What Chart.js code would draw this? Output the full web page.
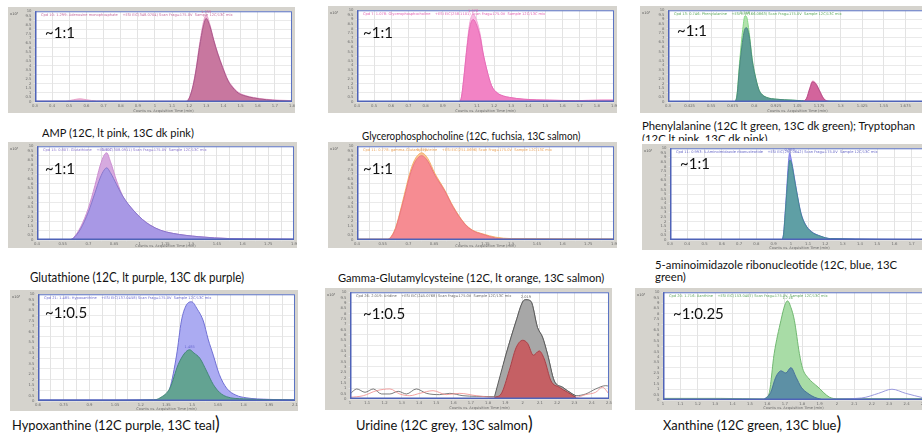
<!DOCTYPE html>
<html>
<head>
<meta charset="utf-8">
<script src="https://cdn.jsdelivr.net/npm/chart.js@4.4.1/dist/chart.umd.min.js"></script>
<style>
  html, body { margin: 0; padding: 0; background: #fff; width: 922px; height: 435px; overflow: hidden; position: relative; }
  body { font-family: Lato, "Open Sans", sans-serif; color: #111; }
  canvas { position: absolute; }
  .cap { position: absolute; white-space: nowrap; transform-origin: 0 0; }
  .clip { overflow: hidden; }
  .ratio { position: absolute; font-size: 15px; line-height: 16px; white-space: nowrap; }
  .paren { font-size: 19px; line-height: 10px; }
</style>
</head>
<body>
<script>
// Extracted ion chromatograms, counts (x10^5) against acquisition time (min)

// AMP
const ampTime13 = [0.3, 0.75, 1.185, 1.2, 1.223, 1.241, 1.26, 1.283, 1.299, 1.32, 1.343, 1.365, 1.395, 1.425, 1.445, 1.485, 1.53, 1.575, 1.65, 1.725, 1.8];
const ampCounts13 = [0.05, 0.05, 0.05, 0.4, 1.8, 3.6, 6.0, 8.4, 9.2, 8.4, 6.8, 5.4, 3.8, 2.4, 1.8, 1.0, 0.65, 0.45, 0.25, 0.15, 0.1];
const ampTime12 = [0.3, 0.48, 0.525, 0.563, 0.6, 0.66, 0.9, 1.17, 1.2, 1.223, 1.241, 1.26, 1.283, 1.299, 1.32, 1.343, 1.365, 1.395, 1.425, 1.445, 1.485, 1.53, 1.575, 1.65, 1.725, 1.8];
const ampCounts12 = [0.1, 0.1, 0.25, 0.35, 0.25, 0.12, 0.1, 0.08, 0.45, 1.9, 3.8, 6.3, 8.8, 9.6, 8.6, 6.9, 5.5, 3.9, 2.5, 1.9, 1.1, 0.7, 0.5, 0.3, 0.2, 0.15];

// Glycerophosphocholine
const gpcTime = [0.4, 0.993, 1.008, 1.023, 1.039, 1.057, 1.078, 1.098, 1.12, 1.135, 1.158, 1.185, 1.218, 1.255, 1.29, 1.375, 1.525, 1.675, 1.825, 1.9];
const gpcCounts13 = [0.05, 0.05, 0.4, 2.5, 5.4, 8.0, 9.0, 8.4, 7.0, 5.4, 3.5, 1.8, 1.0, 0.65, 0.5, 0.3, 0.2, 0.15, 0.2, 0.2];
const gpcCounts12 = [0.05, 0.05, 0.4, 2.6, 5.6, 8.5, 9.6, 8.9, 7.3, 5.5, 3.5, 1.8, 1.0, 0.65, 0.5, 0.3, 0.2, 0.15, 0.2, 0.2];

// Phenylalanine and tryptophan
const pheTime = [0.3, 0.683, 0.698, 0.714, 0.731, 0.746, 0.755, 0.77, 0.788, 0.803, 0.825, 0.84, 0.87, 0.93, 1.02, 1.125, 1.8];
const pheCounts13 = [0.05, 0.05, 0.5, 3.7, 6.5, 8.0, 8.1, 7.2, 4.5, 3.0, 1.4, 0.9, 0.5, 0.3, 0.2, 0.1, 0.05];
const pheCounts12 = [0.05, 0.05, 0.6, 4.2, 7.6, 9.4, 9.3, 7.6, 4.7, 3.1, 1.45, 0.92, 0.52, 0.3, 0.2, 0.1, 0.05];
const trpTime = [1.08, 1.103, 1.122, 1.137, 1.155, 1.178, 1.2, 1.223, 1.275];
const trpCounts13 = [0, 0.4, 1.5, 2.2, 2.0, 1.2, 0.4, 0.1, 0];
const trpCounts12 = [0, 0.45, 1.6, 2.3, 2.1, 1.25, 0.45, 0.1, 0];

// Glutathione
const gshTime = [0.4, 0.595, 0.613, 0.655, 0.7, 0.738, 0.768, 0.793, 0.807, 0.828, 0.865, 0.903, 0.961, 1.015, 1.059, 1.12, 1.195, 1.345, 1.525, 1.75, 1.9];
const gshCounts13 = [0.05, 0.05, 0.2, 1.2, 3.0, 5.0, 6.6, 7.5, 7.7, 7.2, 5.9, 4.6, 3.2, 2.2, 1.6, 1.05, 0.7, 0.35, 0.15, 0.1, 0.08];
const gshCounts12 = [0.05, 0.05, 0.25, 1.4, 3.4, 5.8, 7.9, 9.1, 9.3, 8.4, 6.3, 4.6, 3.2, 2.2, 1.6, 1.05, 0.7, 0.35, 0.15, 0.1, 0.08];

// gamma-Glutamylcysteine
const ggcTime = [0.4, 0.58, 0.594, 0.625, 0.661, 0.685, 0.709, 0.738, 0.778, 0.813, 0.855, 0.913, 0.961, 1.029, 1.075, 1.135, 1.21, 1.3, 1.9];
const ggcCounts13 = [0.05, 0.05, 0.2, 1.2, 3.5, 5.2, 6.9, 8.3, 9.0, 8.4, 6.9, 5.2, 3.5, 1.7, 1.0, 0.6, 0.2, 0.08, 0.05];
const ggcCounts12 = [0.1, 0.1, 0.25, 1.3, 3.7, 5.5, 7.2, 8.6, 9.3, 8.7, 7.1, 5.3, 3.6, 1.75, 1.05, 0.65, 0.3, 0.15, 0.12];

// 5-aminoimidazole ribonucleotide
const airTime = [0.3, 0.945, 0.956, 0.968, 0.978, 0.987, 0.993, 1.0, 1.01, 1.019, 1.034, 1.058, 1.083, 1.118, 1.173, 1.23, 1.8];
const airCounts13 = [0.05, 0.05, 0.4, 3.0, 5.6, 7.8, 8.7, 8.6, 7.8, 6.8, 5.2, 2.9, 1.7, 0.9, 0.4, 0.15, 0.05];
const airCounts12 = [0.05, 0.05, 0.45, 3.3, 6.2, 8.7, 9.5, 9.0, 8.0, 7.0, 5.3, 3.0, 1.75, 0.95, 0.42, 0.15, 0.05];

// Hypoxanthine
const hypTime12 = [0.6, 1.05, 1.275, 1.341, 1.37, 1.409, 1.437, 1.463, 1.496, 1.53, 1.565, 1.593, 1.623, 1.658, 1.701, 1.755, 1.815, 1.95, 2.1];
const hypCounts12 = [0.1, 0.1, 0.12, 0.3, 1.2, 4.3, 7.5, 8.9, 9.3, 8.6, 7.5, 5.8, 4.3, 2.5, 1.2, 0.55, 0.3, 0.15, 0.1];
const hypTime13 = [0.6, 1.05, 1.275, 1.313, 1.37, 1.418, 1.457, 1.485, 1.51, 1.545, 1.584, 1.623, 1.66, 1.701, 1.8, 2.1];
const hypCounts13 = [0.05, 0.05, 0.1, 0.3, 1.2, 3.4, 4.5, 4.8, 4.5, 4.0, 2.8, 1.55, 0.8, 0.4, 0.2, 0.1];

// Uridine
const uriTime12 = [1.0, 1.039, 1.087, 1.135, 1.183, 1.231, 1.279, 1.327, 1.384, 1.443, 1.519, 1.578, 1.654, 1.731, 1.837, 1.904, 1.962, 2.0, 2.019, 2.048, 2.086, 2.115, 2.144, 2.183, 2.231, 2.288, 2.308, 2.365, 2.423, 2.481, 2.5];
const uriCounts12 = [0.47, 0.94, 0.63, 0.94, 0.47, 0.47, 0.72, 0.47, 0.94, 0.53, 0.41, 0.53, 0.31, 0.25, 0.22, 4.2, 7.3, 9.1, 9.3, 9.15, 6.7, 5.8, 4.2, 1.7, 1.1, 0.47, 0.31, 0.47, 0.94, 1.25, 1.2];
const uriTime13 = [1.0, 1.077, 1.154, 1.231, 1.288, 1.346, 1.404, 1.481, 1.558, 1.635, 1.731, 1.837, 1.875, 1.923, 1.962, 2.0, 2.029, 2.062, 2.096, 2.125, 2.164, 2.212, 2.26, 2.308, 2.365, 2.423, 2.462, 2.5];
const uriCounts13 = [0.16, 0.31, 0.78, 0.94, 0.47, 0.31, 0.53, 0.78, 0.41, 0.53, 0.31, 0.16, 0.47, 2.7, 4.8, 5.5, 5.2, 4.1, 4.5, 3.75, 1.7, 1.1, 0.63, 0.16, 0.41, 0.63, 1.1, 0.47];

// Xanthine
const xanTime12 = [1.0, 1.329, 1.581, 1.609, 1.639, 1.678, 1.7, 1.716, 1.735, 1.755, 1.784, 1.803, 1.832, 1.891, 1.958, 2.006, 2.5];
const xanCounts12 = [0.15, 0.15, 0.1, 0.56, 4.3, 7.4, 8.8, 9.2, 8.6, 7.4, 4.3, 2.9, 2.1, 1.2, 0.25, 0.12, 0.12];
const xanTime13 = [1.0, 1.4, 1.581, 1.619, 1.648, 1.678, 1.706, 1.735, 1.765, 1.794, 1.832, 1.871, 1.91, 2.142, 2.239, 2.316, 2.394, 2.5];
const xanCounts13 = [0.06, 0.06, 0.06, 0.7, 2.1, 2.7, 2.5, 3.0, 2.1, 1.2, 0.62, 0.25, 0.06, 0.19, 0.62, 1.0, 0.62, 0.19];

// Panel captions and isotope ratio labels
const captions = [
  ['AMP (12C, lt pink, 13C dk pink)'],
  ['Glycerophosphocholine (12C, fuchsia, 13C salmon)'],
  ['Phenylalanine (12C lt green, 13C dk green); Tryptophan', '(12C lt pink, 13C dk pink)'],
  ['Glutathione (12C, lt purple, 13C dk purple)'],
  ['Gamma-Glutamylcysteine (12C, lt orange, 13C salmon)'],
  ['5-aminoimidazole ribonucleotide (12C, blue, 13C', 'green)'],
  ['Hypoxanthine (12C purple, 13C teal'],
  ['Uridine (12C grey, 13C salmon'],
  ['Xanthine (12C green, 13C blue']
];
const ratios = ['~1:1', '~1:1', '~1:1', '~1:1', '~1:1', '~1:1', '~1:0.5', '~1:0.5', '~1:0.25'];
const compounds = ['Adenosine monophosphate', 'Glycerophosphocholine', 'Phenylalanine', 'Glutathione', 'gamma-Glutamylcysteine', '5-Aminoimidazole ribonucleotide', 'Hypoxanthine', 'Uridine', 'Xanthine'];
const compoundIds = [10, 7, 13, 15, 11, 11, 21, 26, 20];
const ionMasses = ['348.0704', '258.1101', '166.0863', '308.0911', '251.0696', '296.0642', '137.0458', '245.0768', '153.0407'];

// ---------------------------------------------------------------------------

const panels = [
  { left: 8, top: 7, w: 287, h: 106, yw: 27, xh: 11, xMin: 0.3, xMax: 1.8, xStep: 0.1, every: 1, head: '#c56a9c',
    cap: { x: 42, y: 126, size: 12, sx: 0.92, lh: 13 }, ratioPos: [45, 24],
    series: [
      { t: ampTime12, c: ampCounts12, line: '#e8a2ca', fill: '#ebb6d4', order: 2, label: true },
      { t: ampTime13, c: ampCounts13, line: '#a9588a', fill: '#c8779f', order: 1 }
    ] },
  { left: 328, top: 6, w: 289, h: 107, yw: 29, xh: 11, xMin: 0.4, xMax: 1.9, xStep: 0.1, every: 1, head: '#e262b2',
    cap: { x: 362, y: 128.5, size: 10.7, sx: 0.92, lh: 13 }, ratioPos: [363, 24],
    series: [
      { t: gpcTime, c: gpcCounts12, line: '#f3a6d6', fill: '#f7bde1', order: 2, label: true },
      { t: gpcTime, c: gpcCounts13, line: '#e66db7', fill: '#f283c5', order: 1 }
    ] },
  { left: 640, top: 6, w: 290, h: 107, yw: 28, xh: 11, xMin: 0.3, xMax: 1.8, xStep: 0.125, every: 1, head: '#5aa85a',
    cap: { x: 642, y: 118.5, size: 12.3, sx: 0.92, lh: 13, clip: 22.5 }, ratioPos: [677, 22],
    series: [
      { t: pheTime, c: pheCounts12, line: '#86d886', fill: '#b3e3ad', order: 4, label: true },
      { t: pheTime, c: pheCounts13, line: '#4a8980', fill: '#5e9d94', order: 3 },
      { t: trpTime, c: trpCounts12, line: '#f0a6cc', fill: '#f2b8d6', order: 2 },
      { t: trpTime, c: trpCounts13, line: '#b44d85', fill: '#d3649c', order: 1 }
    ] },
  { left: 8, top: 142, w: 289, h: 106, yw: 29, xh: 8, xMin: 0.4, xMax: 1.9, xStep: 0.075, every: 2, head: '#8a74cc',
    cap: { x: 30, y: 271, size: 12.5, sx: 0.92, lh: 14 }, ratioPos: [45, 160],
    series: [
      { t: gshTime, c: gshCounts12, line: '#cc8fd0', fill: '#d6aadf', order: 2, label: true },
      { t: gshTime, c: gshCounts13, line: '#8877cc', fill: '#a898e5', order: 1 }
    ] },
  { left: 328, top: 142, w: 289, h: 106, yw: 29, xh: 8, xMin: 0.4, xMax: 1.9, xStep: 0.075, every: 2, head: '#eba35a',
    cap: { x: 338, y: 271, size: 12.1, sx: 0.92, lh: 14 }, ratioPos: [363, 160],
    series: [
      { t: ggcTime, c: ggcCounts12, line: '#f5b16a', fill: '#f8c496', order: 2, label: true },
      { t: ggcTime, c: ggcCounts13, line: '#ea7880', fill: '#f68c92', order: 1 }
    ] },
  { left: 642, top: 144, w: 290, h: 106, yw: 28, xh: 10, xMin: 0.3, xMax: 1.8, xStep: 0.1, every: 1, head: '#6868c8',
    cap: { x: 655, y: 258.5, size: 12.3, sx: 0.92, lh: 12 }, ratioPos: [680, 155],
    series: [
      { t: airTime, c: airCounts12, line: '#7a7ae6', fill: '#9d9df0', order: 2, label: true },
      { t: airTime, c: airCounts13, line: '#468790', fill: '#5f9fa5', order: 1 }
    ] },
  { left: 10, top: 290, w: 288, h: 121, yw: 28, xh: 10, xMin: 0.6, xMax: 2.1, xStep: 0.075, every: 2, head: '#6a6ad0',
    cap: { x: 12, y: 416, size: 14, sx: 0.92, lh: 18, paren: true }, ratioPos: [45, 304],
    series: [
      { t: hypTime12, c: hypCounts12, line: '#7070d4', fill: '#ababf2', order: 2 },
      { t: hypTime13, c: hypCounts13, line: '#45887a', fill: '#63a392', order: 1, label: true }
    ] },
  { left: 325, top: 288, w: 287, h: 122, yw: 25, xh: 11, xMin: 1.0, xMax: 2.5, xStep: 0.1, every: 1, head: '#666666',
    cap: { x: 356, y: 416, size: 14, sx: 0.92, lh: 18, paren: true }, ratioPos: [363, 305],
    series: [
      { t: uriTime12, c: uriCounts12, line: '#5c5c5c', fill: '#a7a7a7', range: [1.83, 2.32], order: 3, label: true },
      { t: uriTime13, c: uriCounts13, line: '#a3434a', fill: '#c56064', range: [1.83, 2.32], order: 1 },
      { t: uriTime12, c: uriCounts12, line: '#5c5c5c', order: 4, bw: 0.8 },
      { t: uriTime13, c: uriCounts13, line: '#f08a8a', order: 2, bw: 0.8 }
    ] },
  { left: 635, top: 288, w: 292, h: 122, yw: 28, xh: 10, xMin: 1.0, xMax: 2.5, xStep: 0.1, every: 1, head: '#5fa55f',
    cap: { x: 663, y: 416, size: 14, sx: 0.92, lh: 18, paren: true }, ratioPos: [673, 305],
    series: [
      { t: xanTime12, c: xanCounts12, line: '#72b872', fill: '#a8dca6', order: 3, label: true },
      { t: xanTime13, c: xanCounts13, line: '#487a92', fill: '#5d90a5', range: [1.57, 1.92], order: 1 },
      { t: xanTime13, c: xanCounts13, line: '#9a9ade', order: 2 }
    ] }
];

function fmt(v) {
  return String(Math.round(v * 1000) / 1000);
}

// Gray instrument frame, white plot area, blue plot border, header and apex labels
const framePlugin = {
  id: 'frame',
  beforeDraw(chart) {
    const { ctx, chartArea: a, width, height } = chart;
    ctx.save();
    ctx.fillStyle = '#d5d3cd';
    ctx.fillRect(0, 0, width, height);
    ctx.fillStyle = '#ffffff';
    ctx.fillRect(a.left, a.top, a.right - a.left, a.bottom - a.top);
    ctx.restore();
  },
  afterDraw(chart) {
    const { ctx, chartArea: a } = chart;
    const o = chart.options.plugins.frame;
    ctx.save();
    ctx.strokeStyle = '#5a72c4';
    ctx.lineWidth = 1;
    ctx.strokeRect(a.left + 0.5, a.top + 0.5, a.right - a.left - 1, a.bottom - a.top - 1);
    ctx.strokeStyle = '#4f63b8';
    ctx.lineWidth = 1.5;
    ctx.beginPath();
    ctx.moveTo(a.left + 0.75, a.top);
    ctx.lineTo(a.left + 0.75, a.bottom - 0.75);
    ctx.lineTo(a.right, a.bottom - 0.75);
    ctx.stroke();

    ctx.font = '3.6px "DejaVu Sans"';
    ctx.textBaseline = 'top';
    ctx.fillStyle = o.head;
    ctx.fillText(o.headerText, a.left + 6, a.top + 2);

    ctx.fillStyle = '#555';
    ctx.fillText('x10\u2075', 2, a.top + 1);

    if (o.apex) {
      const xs = chart.scales.x, ys = chart.scales.y;
      ctx.fillStyle = o.head;
      ctx.textAlign = 'center';
      ctx.textBaseline = 'bottom';
      ctx.fillText(fmt(o.apex.x), xs.getPixelForValue(o.apex.x), ys.getPixelForValue(o.apex.y) - 1);
    }
    ctx.restore();
  }
};

panels.forEach((p, k) => {
  const canvas = document.createElement('canvas');
  canvas.width = p.w;
  canvas.height = p.h;
  canvas.style.left = p.left + 'px';
  canvas.style.top = p.top + 'px';
  canvas.style.width = p.w + 'px';
  canvas.style.height = p.h + 'px';
  document.body.appendChild(canvas);

  let apex = null;
  const datasets = p.series.map(s => {
    let pts = s.t.map((t, i) => ({ x: t, y: s.c[i] }));
    if (s.range) pts = pts.filter(q => q.x >= s.range[0] && q.x <= s.range[1]);
    if (s.label) {
      pts.forEach(q => { if (!apex || q.y > apex.y) apex = q; });
    }
    return {
      data: pts,
      borderColor: s.line,
      backgroundColor: s.fill || 'transparent',
      fill: s.fill ? 'origin' : false,
      borderWidth: s.bw || 1,
      pointRadius: 0,
      cubicInterpolationMode: 'monotone',
      order: s.order
    };
  });

  const headerText = 'Cpd ' + compoundIds[k] + ': ' + (apex ? fmt(apex.x) : '') + ': ' + compounds[k] +
    '    +ESI EIC(' + ionMasses[k] + ') Scan Frag=175.0V  Sample 12C/13C mix';

  new Chart(canvas, {
    type: 'line',
    data: { datasets },
    plugins: [framePlugin],
    options: {
      responsive: false,
      animation: false,
      devicePixelRatio: 1,
      layout: { padding: { top: 1, right: 2, left: 0, bottom: 0 } },
      plugins: {
        legend: { display: false },
        tooltip: { enabled: false },
        frame: { head: p.head, headerText, apex }
      },
      scales: {
        x: {
          type: 'linear', min: p.xMin, max: p.xMax,
          afterFit(s) { s.height = p.xh; },
          ticks: {
            stepSize: p.xStep, autoSkip: false, maxRotation: 0, padding: 0,
            font: { size: 3.8, family: 'DejaVu Sans' }, color: '#6a6a6a',
            callback: (v, i) => (i % p.every ? '' : fmt(v))
          },
          grid: { color: '#dcdcdc', lineWidth: 0.8, tickLength: 1.5 },
          border: { display: false },
          title: { display: true, text: 'Counts vs. Acquisition Time (min)', font: { size: 3.6, family: 'DejaVu Sans' }, color: '#6a6a6a', padding: 0 }
        },
        y: {
          min: 0, max: 10,
          afterFit(s) { s.width = p.yw; },
          ticks: {
            stepSize: 0.5, autoSkip: false, padding: 2,
            font: { size: 3.8, family: 'DejaVu Sans' }, color: '#6a6a6a',
            callback: v => fmt(v)
          },
          grid: { color: c => (c.index % 2 ? 'rgba(0,0,0,0)' : '#e4e4e4'), lineWidth: 0.8, tickLength: 1.5 },
          border: { display: false }
        }
      }
    }
  });

  // caption under the panel
  const c = p.cap;
  const cap = document.createElement('div');
  cap.className = 'cap' + (c.clip ? ' clip' : '');
  cap.style.left = c.x + 'px';
  cap.style.top = c.y + 'px';
  cap.style.fontSize = c.size + 'px';
  cap.style.lineHeight = c.lh + 'px';
  cap.style.transform = 'scaleX(' + c.sx + ')';
  if (c.clip) cap.style.height = c.clip + 'px';
  captions[k].forEach((line, j) => {
    const d = document.createElement('div');
    d.textContent = line;
    if (c.paren && j === captions[k].length - 1) {
      const s = document.createElement('span');
      s.className = 'paren';
      s.textContent = ')';
      d.appendChild(s);
    }
    cap.appendChild(d);
  });
  document.body.appendChild(cap);

  // isotope ratio over the plot
  const r = document.createElement('div');
  r.className = 'ratio';
  r.style.left = p.ratioPos[0] + 'px';
  r.style.top = p.ratioPos[1] + 'px';
  r.textContent = ratios[k];
  document.body.appendChild(r);
});
</script>
</body>
</html>
